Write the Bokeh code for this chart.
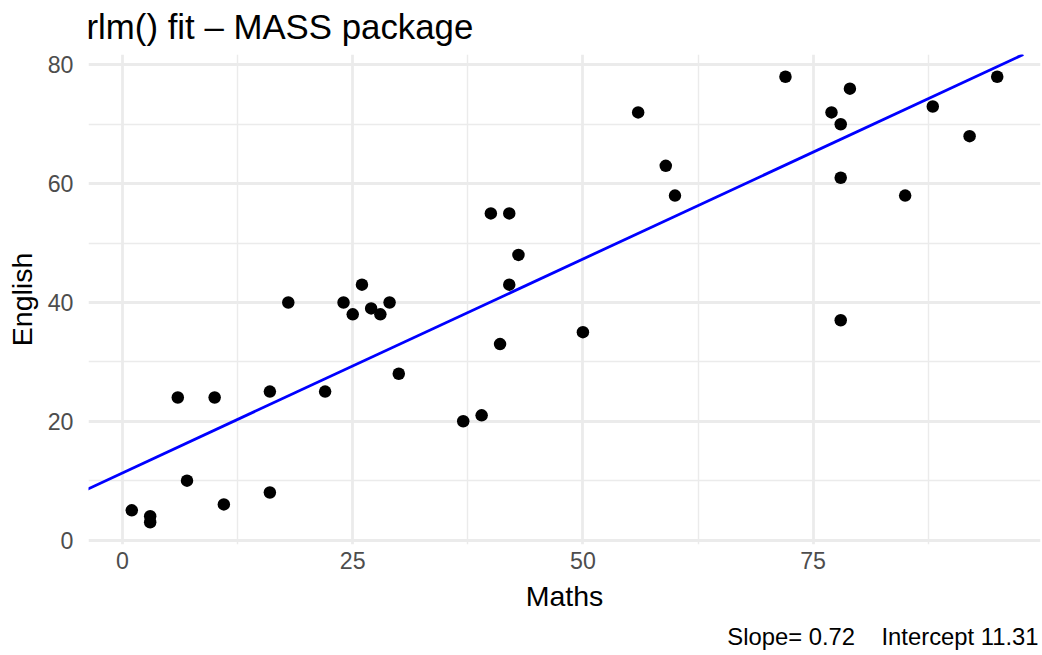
from bokeh.plotting import figure
from bokeh.models import FixedTicker, Slope, Range1d, Title
from bokeh.embed import file_html
from bokeh.resources import INLINE

# ---- data ----
maths = [1, 3, 3, 6, 7, 10, 11, 16, 16, 18, 22, 24, 25, 26, 27, 28, 29, 30,
         37, 39, 40, 41, 42, 42, 43, 50, 56, 59, 60, 72, 77, 78, 78, 78, 79,
         85, 88, 92, 95]
english = [5, 4, 3, 24, 10, 24, 6, 25, 8, 40, 25, 40, 38, 43, 39, 38, 40, 28,
           20, 21, 55, 33, 55, 43, 48, 35, 72, 63, 58, 78, 72, 70, 61, 37, 76,
           58, 73, 68, 78]
slope = 0.72
intercept = 11.31

x_ticks = [0, 25, 50, 75]
x_minor = [12.5, 37.5, 62.5, 87.5]
y_ticks = [0, 20, 40, 60, 80]
y_minor = [10, 30, 50, 70]

title_text = "rlm() fit \u2013 MASS package"
# non-breaking spaces keep the wide gap (SVG collapses ordinary runs of spaces)
caption_text = "Slope= 0.72\u00a0\u00a0\u00a0\u00a0Intercept 11.31"
x_title = "Maths"
y_title = "English"

FONT = "Liberation Sans"

# ggplot-like 5% expansion
xpad = 0.05 * (max(maths) - min(maths))
ypad = 0.05 * (max(english) - min(english))

p = figure(width=1042, height=655, output_backend="svg", toolbar_location=None,
           x_range=Range1d(min(maths) - xpad, max(maths) + xpad),
           y_range=Range1d(min(english) - ypad, max(english) + ypad),
           min_border_left=88, min_border_right=2, min_border_top=54,
           min_border_bottom=111, outline_line_color=None,
           background_fill_color="white", border_fill_color="white")

p.title.text = title_text
p.title.text_font = FONT
p.title.text_font_size = "34.8px"
p.title.text_font_style = "normal"
p.title.text_color = "black"
p.title.align = "left"
p.title.vertical_align = "top"
p.title.offset = -2
p.title.standoff = 13

p.add_layout(Title(text=caption_text, align="right", text_font=FONT,
                   text_font_size="23.8px", text_font_style="normal",
                   text_color="black", standoff=12, offset=2), "below")

p.xaxis.ticker = FixedTicker(ticks=x_ticks, minor_ticks=x_minor)
p.yaxis.ticker = FixedTicker(ticks=y_ticks, minor_ticks=y_minor)

for ax in (p.xaxis, p.yaxis):
    ax.axis_line_color = None
    ax.major_tick_line_color = None
    ax.minor_tick_line_color = None
    ax.major_tick_out = 0
    ax.major_tick_in = 0
    ax.minor_tick_out = 0
    ax.minor_tick_in = 0
    ax.major_label_text_font = FONT
    ax.major_label_text_font_size = "23.2px"
    ax.major_label_text_color = "#4D4D4D"
    ax.axis_label_text_font = FONT
    ax.axis_label_text_font_size = "28.5px"
    ax.axis_label_text_font_style = "normal"
    ax.axis_label_text_color = "black"

p.xaxis.axis_label = x_title
p.yaxis.axis_label = y_title
p.xaxis.major_label_standoff = 7
p.xaxis.axis_label_standoff = 8
p.yaxis.major_label_standoff = 15
p.yaxis.axis_label_standoff = 7

for g in (p.xgrid, p.ygrid):
    g.grid_line_color = "#EBEBEB"
    g.grid_line_width = 2.8
    g.minor_grid_line_color = "#EBEBEB"
    g.minor_grid_line_width = 1.4

p.scatter(maths, english, size=12.5, fill_color="black", line_color="black",
          line_width=0)
p.add_layout(Slope(gradient=slope, y_intercept=intercept,
                   line_color="blue", line_width=2.8))

open("out.html", "w").write(file_html(p, INLINE))
